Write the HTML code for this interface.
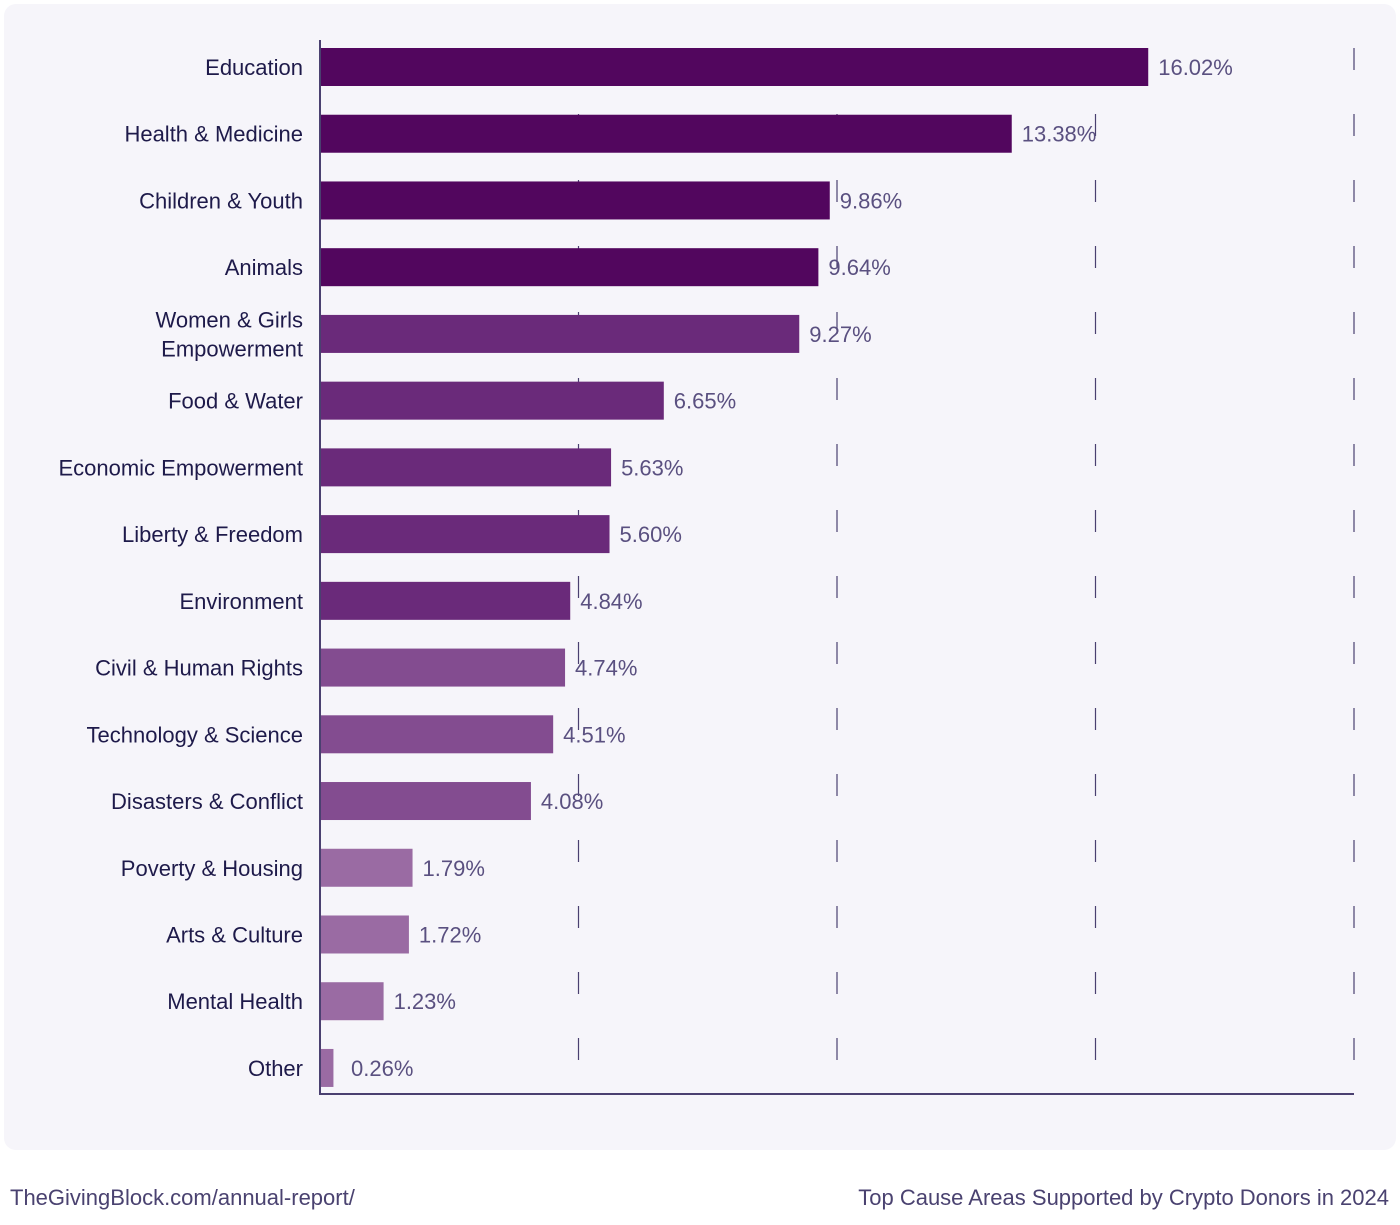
<!DOCTYPE html>
<html><head><meta charset="utf-8"><style>
body{margin:0;background:#fff;font-family:"Liberation Sans",sans-serif}
svg{display:block}
</style></head><body>
<svg width="1400" height="1225" viewBox="0 0 1400 1225">
<rect x="4" y="4" width="1392" height="1146" rx="12" fill="#f6f5fa"/>
<g id="grid"></g>
<g id="bars"></g>
<line x1="320" y1="40" x2="320" y2="1094" stroke="#4a4070" stroke-width="2"/>
<line x1="319" y1="1094" x2="1354" y2="1094" stroke="#4a4070" stroke-width="2"/>
<text x="10" y="1205" font-size="22" fill="#4a4270">TheGivingBlock.com/annual-report/</text>
<text x="1389" y="1205" font-size="22" fill="#4a4270" text-anchor="end">Top Cause Areas Supported by Crypto Donors in 2024</text>
</svg>
<script>
const categories=["Education","Health & Medicine","Children & Youth","Animals","Women & Girls|Empowerment","Food & Water","Economic Empowerment","Liberty & Freedom","Environment","Civil & Human Rights","Technology & Science","Disasters & Conflict","Poverty & Housing","Arts & Culture","Mental Health","Other"];
const values=[16.02,13.38,9.86,9.64,9.27,6.65,5.63,5.60,4.84,4.74,4.51,4.08,1.79,1.72,1.23,0.26];
const valueLabels=["16.02%","13.38%","9.86%","9.64%","9.27%","6.65%","5.63%","5.60%","4.84%","4.74%","4.51%","4.08%","1.79%","1.72%","1.23%","0.26%"];
const gridTicks=[5,10,15,20];
const NS="http://www.w3.org/2000/svg";
const x0=320, pxPer=51.7, yTop=67, step=66.73, barH=38;
function xs(v){return x0+v*pxPer;}
function ys(i){return yTop+i*step;}
function colorFor(i){return i<4?"#52065e":i<9?"#6a2a7a":i<12?"#834c90":"#9a6ba3";}
const grid=document.getElementById("grid");
gridTicks.forEach(t=>{
  const l=document.createElementNS(NS,"line");
  
  
  l.setAttribute("x1",xs(t));l.setAttribute("x2",xs(t));
  l.setAttribute("y1",48);l.setAttribute("y2",1094);
  l.setAttribute("stroke","#4a4070");l.setAttribute("stroke-width","1.2");
  l.setAttribute("stroke-dasharray","22 44");
  grid.appendChild(l);
});
const g=document.getElementById("bars");
categories.forEach((c,i)=>{
  const cy=ys(i);
  const r=document.createElementNS(NS,"rect");
  
  
  r.setAttribute("x",x0);r.setAttribute("y",cy-barH/2);
  r.setAttribute("width",xs(values[i])-x0);r.setAttribute("height",barH);
  r.setAttribute("fill",colorFor(i));
  g.appendChild(r);
  const vt=document.createElementNS(NS,"text");
  
  
  vt.setAttribute("x",Math.max(xs(values[i])+10,351));vt.setAttribute("y",cy+8);
  vt.setAttribute("font-size","22");vt.setAttribute("fill","#5a5080");
  vt.textContent=valueLabels[i];
  g.appendChild(vt);
  const parts=c.split("|");
  const lt=document.createElementNS(NS,"text");
  
  
  lt.setAttribute("text-anchor","end");lt.setAttribute("font-size","22");lt.setAttribute("fill","#1e1a4a");
  parts.forEach((p,k)=>{
    const ts=document.createElementNS(NS,"tspan");
    ts.setAttribute("x",303);
    ts.setAttribute("y",cy+8+(k-(parts.length-1)/2)*29);
    ts.textContent=p;
    lt.appendChild(ts);
  });
  g.appendChild(lt);
});
</script>
</body></html>
